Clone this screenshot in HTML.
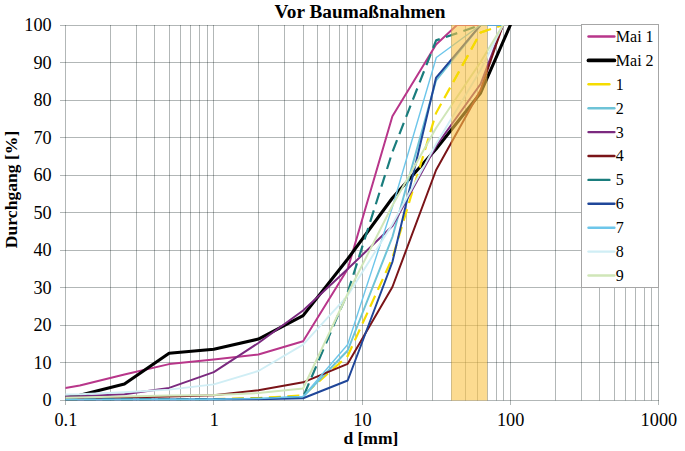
<!DOCTYPE html><html><head><meta charset="utf-8"><style>html,body{margin:0;padding:0;background:#fff;}svg{display:block;}text{font-family:"Liberation Serif",serif;fill:#000;}</style></head><body>
<svg width="685" height="451" viewBox="0 0 685 451">
<rect width="685" height="451" fill="#fff"/>
<g stroke="rgba(0,15,15,0.3)" stroke-width="1"><line x1="65.50" y1="25" x2="65.50" y2="405" /><line x1="110.50" y1="25" x2="110.50" y2="400.5" /><line x1="136.50" y1="25" x2="136.50" y2="400.5" /><line x1="154.50" y1="25" x2="154.50" y2="400.5" /><line x1="169.50" y1="25" x2="169.50" y2="400.5" /><line x1="180.50" y1="25" x2="180.50" y2="400.5" /><line x1="190.50" y1="25" x2="190.50" y2="400.5" /><line x1="199.50" y1="25" x2="199.50" y2="400.5" /><line x1="207.50" y1="25" x2="207.50" y2="400.5" /><line x1="213.50" y1="25" x2="213.50" y2="405" /><line x1="258.50" y1="25" x2="258.50" y2="400.5" /><line x1="284.50" y1="25" x2="284.50" y2="400.5" /><line x1="303.50" y1="25" x2="303.50" y2="400.5" /><line x1="317.50" y1="25" x2="317.50" y2="400.5" /><line x1="329.50" y1="25" x2="329.50" y2="400.5" /><line x1="339.50" y1="25" x2="339.50" y2="400.5" /><line x1="347.50" y1="25" x2="347.50" y2="400.5" /><line x1="355.50" y1="25" x2="355.50" y2="400.5" /><line x1="362.50" y1="25" x2="362.50" y2="405" /><line x1="406.50" y1="25" x2="406.50" y2="400.5" /><line x1="432.50" y1="25" x2="432.50" y2="400.5" /><line x1="451.50" y1="25" x2="451.50" y2="400.5" /><line x1="465.50" y1="25" x2="465.50" y2="400.5" /><line x1="477.50" y1="25" x2="477.50" y2="400.5" /><line x1="487.50" y1="25" x2="487.50" y2="400.5" /><line x1="496.50" y1="25" x2="496.50" y2="400.5" /><line x1="503.50" y1="25" x2="503.50" y2="400.5" /><line x1="510.50" y1="25" x2="510.50" y2="405" /><line x1="555.50" y1="25" x2="555.50" y2="400.5" /><line x1="581.50" y1="25" x2="581.50" y2="400.5" /><line x1="599.50" y1="25" x2="599.50" y2="400.5" /><line x1="614.50" y1="25" x2="614.50" y2="400.5" /><line x1="625.50" y1="25" x2="625.50" y2="400.5" /><line x1="635.50" y1="25" x2="635.50" y2="400.5" /><line x1="644.50" y1="25" x2="644.50" y2="400.5" /><line x1="651.50" y1="25" x2="651.50" y2="400.5" /><line x1="658.5" y1="25" x2="658.5" y2="405" /><line x1="60" y1="400.50" x2="659" y2="400.50" /><line x1="60" y1="362.50" x2="659" y2="362.50" /><line x1="60" y1="325.50" x2="659" y2="325.50" /><line x1="60" y1="287.50" x2="659" y2="287.50" /><line x1="60" y1="250.50" x2="659" y2="250.50" /><line x1="60" y1="212.50" x2="659" y2="212.50" /><line x1="60" y1="175.50" x2="659" y2="175.50" /><line x1="60" y1="137.50" x2="659" y2="137.50" /><line x1="60" y1="100.50" x2="659" y2="100.50" /><line x1="60" y1="62.50" x2="659" y2="62.50" /><line x1="60" y1="25.50" x2="659" y2="25.50" /></g>
<defs><clipPath id="pc"><rect x="65.5" y="25" width="593" height="375.5"/></clipPath></defs>
<g clip-path="url(#pc)" fill="none" stroke-linejoin="round" stroke-linecap="round">
<polyline points="65.4,388.1 79.8,385.5 124.4,374.5 169.1,364.1 213.8,359.5 258.4,354.5 303.1,341.3 347.7,269.0 392.4,116.3 436.1,44.5 457.0,25.0 480.6,25.0 503.0,25.0" stroke="#b8368a" stroke-width="2.0" stroke-linecap="round"/>
<polyline points="65.4,397.2 79.8,395.2 124.4,384.0 169.1,353.3 213.8,349.2 258.4,339.1 303.1,315.6 347.7,259.0 392.4,198.0 436.1,149.0 480.6,93.0 510.4,25.0" stroke="#000000" stroke-width="3.1" stroke-linecap="round"/>
<polyline points="65.4,399.3 213.8,399.0 258.4,398.0 303.1,395.5 347.7,356.0 392.4,258.0 436.1,113.0 480.6,32.5 503.0,25.0" stroke="#f5dc00" stroke-width="2.2" stroke-dasharray="12 6.5" stroke-linecap="butt"/>
<polyline points="65.4,399.6 213.8,399.4 258.4,398.8 303.1,396.8 347.7,350.5 392.4,237.0 436.1,80.3 480.6,25.0 503.0,25.0" stroke="#6ec3d7" stroke-width="2.0" stroke-linecap="round"/>
<polyline points="65.4,396.6 79.8,396.3 124.4,394.3 169.1,387.9 213.8,372.1 258.4,343.0 303.1,310.5 347.7,269.0 392.4,226.0 436.1,146.0 480.6,84.0 503.0,25.0" stroke="#7b2a7f" stroke-width="2.0" stroke-linecap="round"/>
<polyline points="65.4,398.5 79.8,398.3 124.4,397.5 169.1,396.5 213.8,395.3 258.4,390.3 303.1,382.3 347.7,363.8 392.4,287.0 436.1,170.0 480.6,90.0 503.0,25.0" stroke="#7a1418" stroke-width="2.0" stroke-linecap="round"/>
<polyline points="65.4,399.4 124.4,399.3 213.8,399.2 258.4,398.8 303.1,397.0 347.7,292.5 392.4,152.0 436.1,40.4 480.6,25.0 503.0,25.0" stroke="#1a7d7d" stroke-width="2.2" stroke-dasharray="12 6.5" stroke-linecap="butt"/>
<polyline points="65.4,399.8 213.8,399.6 258.4,399.2 303.1,398.2 347.7,380.5 392.4,262.0 436.1,77.6 480.6,25.0 503.0,25.0" stroke="#1f4699" stroke-width="2.0" stroke-linecap="round"/>
<polyline points="65.4,399.4 213.8,399.2 258.4,398.6 303.1,396.5 347.7,344.5 392.4,207.0 436.3,57.5 480.6,25.0 503.0,25.0" stroke="#6dc6ea" stroke-width="1.4" stroke-linecap="round"/>
<polyline points="65.4,394.5 79.8,394.3 124.4,392.3 169.1,389.6 213.8,384.4 258.4,371.0 303.1,344.6 347.7,295.6 392.4,224.3 436.1,144.0 480.6,70.0 503.0,25.0" stroke="#d0eef5" stroke-width="1.9" stroke-linecap="round"/>
<polyline points="65.4,397.8 124.4,396.4 169.1,395.6 213.8,395.0 258.4,393.1 303.1,388.5 347.7,293.8 392.4,205.5 436.1,128.0 480.6,62.0 503.0,25.0" stroke="#d0e6b8" stroke-width="2.0" stroke-linecap="round"/>
</g>
<rect x="451.26" y="25" width="36.03" height="375.5" fill="rgb(250,195,70)" fill-opacity="0.6"/>
<defs><clipPath id="bc"><rect x="451.26" y="25" width="36.03" height="375.5"/></clipPath></defs>
<g clip-path="url(#bc)"><polyline points="65.4,399.3 213.8,399.0 258.4,398.0 303.1,395.5 347.7,356.0 392.4,258.0 436.1,113.0 480.6,32.5 503.0,25.0" fill="none" stroke="#f5dc00" stroke-width="2.2" stroke-dasharray="12 6.5" stroke-linejoin="round"/></g>
<text x="51.6" y="406.4" font-size="18.2" text-anchor="end">0</text>
<text x="51.6" y="368.8" font-size="18.2" text-anchor="end">10</text>
<text x="51.6" y="331.3" font-size="18.2" text-anchor="end">20</text>
<text x="51.6" y="293.8" font-size="18.2" text-anchor="end">30</text>
<text x="51.6" y="256.2" font-size="18.2" text-anchor="end">40</text>
<text x="51.6" y="218.7" font-size="18.2" text-anchor="end">50</text>
<text x="51.6" y="181.1" font-size="18.2" text-anchor="end">60</text>
<text x="51.6" y="143.6" font-size="18.2" text-anchor="end">70</text>
<text x="51.6" y="106.0" font-size="18.2" text-anchor="end">80</text>
<text x="51.6" y="68.5" font-size="18.2" text-anchor="end">90</text>
<text x="51.6" y="30.9" font-size="18.2" text-anchor="end">100</text>
<text x="65.9" y="426.3" font-size="18.3" text-anchor="middle">0.1</text>
<text x="214.2" y="426.3" font-size="18.3" text-anchor="middle">1</text>
<text x="362.4" y="426.3" font-size="18.3" text-anchor="middle">10</text>
<text x="510.6" y="426.3" font-size="18.3" text-anchor="middle">100</text>
<text x="658.9" y="426.3" font-size="18.3" text-anchor="middle">1000</text>
<text x="370.9" y="444.2" font-size="17.5" font-weight="bold" text-anchor="middle">d [mm]</text>
<text x="360.05" y="18" font-size="19.3" font-weight="bold" text-anchor="middle">Vor Baumaßnahmen</text>
<text transform="translate(17.2,189.4) rotate(-90)" font-size="17.6" font-weight="bold" text-anchor="middle">Durchgang [%]</text>
<rect x="581.5" y="24.5" width="77" height="263" fill="#fff" stroke="#a6a6a6" stroke-width="1"/>
<line x1="588.5" y1="36.5" x2="614.4" y2="36.5" stroke="#b8368a" stroke-width="2.4" stroke-linecap="round"/>
<text x="615.8" y="41.9" font-size="16">Mai 1</text>
<line x1="588.5" y1="60.4" x2="614.4" y2="60.4" stroke="#000000" stroke-width="3.8" stroke-linecap="round"/>
<text x="615.8" y="65.8" font-size="16">Mai 2</text>
<line x1="588.5" y1="84.3" x2="609.4" y2="84.3" stroke="#f5dc00" stroke-width="2.4" stroke-linecap="round"/>
<text x="615.8" y="89.7" font-size="16">1</text>
<line x1="588.5" y1="108.2" x2="614.4" y2="108.2" stroke="#6ec3d7" stroke-width="2.4" stroke-linecap="round"/>
<text x="615.8" y="113.6" font-size="16">2</text>
<line x1="588.5" y1="132.1" x2="614.4" y2="132.1" stroke="#7b2a7f" stroke-width="2.4" stroke-linecap="round"/>
<text x="615.8" y="137.5" font-size="16">3</text>
<line x1="588.5" y1="156.0" x2="614.4" y2="156.0" stroke="#7a1418" stroke-width="2.4" stroke-linecap="round"/>
<text x="615.8" y="161.4" font-size="16">4</text>
<line x1="588.5" y1="179.9" x2="609.4" y2="179.9" stroke="#1a7d7d" stroke-width="2.4" stroke-linecap="round"/>
<text x="615.8" y="185.3" font-size="16">5</text>
<line x1="588.5" y1="203.8" x2="614.4" y2="203.8" stroke="#1f4699" stroke-width="2.4" stroke-linecap="round"/>
<text x="615.8" y="209.2" font-size="16">6</text>
<line x1="588.5" y1="227.7" x2="614.4" y2="227.7" stroke="#6dc6ea" stroke-width="2.4" stroke-linecap="round"/>
<text x="615.8" y="233.1" font-size="16">7</text>
<line x1="588.5" y1="251.6" x2="614.4" y2="251.6" stroke="#d0eef5" stroke-width="2.4" stroke-linecap="round"/>
<text x="615.8" y="257.0" font-size="16">8</text>
<line x1="588.5" y1="275.5" x2="614.4" y2="275.5" stroke="#d0e6b8" stroke-width="2.4" stroke-linecap="round"/>
<text x="615.8" y="280.9" font-size="16">9</text>
</svg></body></html>
